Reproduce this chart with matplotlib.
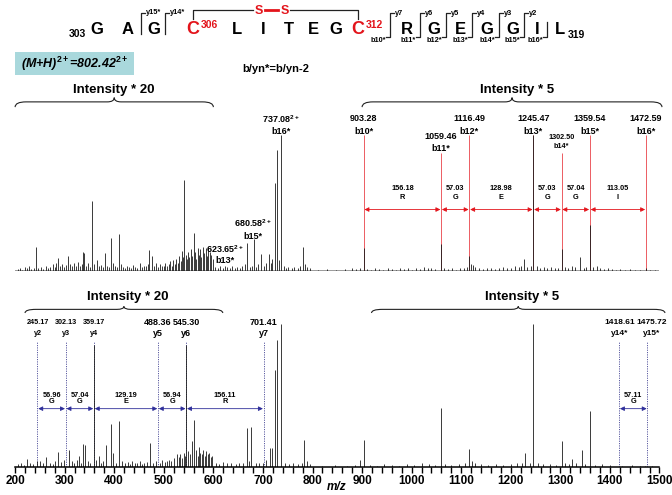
import matplotlib.pyplot as plt
from matplotlib.path import Path
from matplotlib.patches import PathPatch, Rectangle
from matplotlib.lines import Line2D

plt.rcParams['font.family'] = ['Liberation Sans', 'DejaVu Sans']
plt.rcParams['font.weight'] = 'bold'
plt.rcParams['mathtext.fontset'] = 'custom'
plt.rcParams['mathtext.rm'] = 'Liberation Sans:bold'
plt.rcParams['mathtext.bf'] = 'Liberation Sans:bold'
plt.rcParams['mathtext.it'] = 'Liberation Sans:italic:bold'

# ---------------- data ----------------
# upper spectrum (b-ions), intensity in % of the tallest line
top_mz = [242, 286, 307, 337, 339, 356, 382, 393, 410, 471, 476, 541, 560, 668, 681,
          697, 712, 724, 729, 737.08, 780, 903.28, 1059.46, 1116.49, 1124, 1226, 1240,
          1245.47, 1302.50, 1323, 1340, 1359.54, 1373, 1472.59,
          205, 210, 214, 219, 224, 228, 233, 238, 247, 252, 257, 262, 267, 271, 276, 280,
          283, 290, 294, 298, 302, 311, 315, 319, 322, 326, 330, 334, 344, 348, 352, 360,
          365, 369, 373, 377, 386, 389, 398, 402, 406, 414, 418, 422, 426, 430, 434, 438,
          442, 446, 452, 456, 460, 464, 468, 480, 484, 488, 492, 496, 500, 503, 507, 510,
          513, 516, 519, 522, 525, 528, 531, 534, 537, 539, 544, 546, 549, 551, 554, 557,
          563, 565, 568, 571, 574, 576, 579, 582, 585, 587, 590, 593, 596, 599,
          604, 609, 614, 619, 623.65, 628, 633, 638, 643, 648, 653, 658, 663, 673, 677,
          686, 691, 702, 706, 716, 719, 733, 742, 746, 751, 758, 763, 770, 775, 785, 789,
          795, 812, 830, 848, 866, 880, 888, 895,
          910, 918, 926, 935, 943, 952, 960, 968, 976, 985, 993, 1000, 1008, 1016, 1024,
          1032, 1040, 1048, 1066, 1074, 1082, 1090, 1098, 1106, 1112, 1120, 1128, 1136,
          1144, 1152, 1160, 1168, 1176, 1184, 1192, 1200, 1208, 1216, 1221, 1232, 1252,
          1258, 1266, 1274, 1282, 1290, 1296, 1310, 1316, 1330, 1347, 1352, 1366, 1380,
          1388, 1396, 1404, 1412, 1420, 1430, 1440, 1450, 1460, 1480, 1490]
top_int = [18, 9.5, 11, 14, 13, 51.5, 13, 24, 27, 15.5, 11, 67, 28, 20.5, 23.5,
           12.5, 12.5, 65, 89, 100, 17.6, 17, 20, 10.7, 4.4, 9, 3.7,
           100, 16, 3.7, 10, 34, 3.7, 2.2,
           1.5, 2.5, 1, 3, 2, 3.5, 1.5, 2, 2.5, 3, 1.5, 4, 2, 3, 5, 3,
           6, 4, 5.5, 3, 4.5, 5, 3.5, 6, 4, 6.6, 4, 5, 4, 6, 3, 5,
           7.8, 4, 4.5, 3, 4, 3, 6, 4, 3, 5, 3, 2.5, 4, 3, 2, 4.5,
           3, 2.5, 6, 3, 4, 3.5, 5, 4, 6, 3, 5, 4, 3.5, 6, 4, 5,
           7, 4, 8, 5, 9, 6, 11, 7, 15, 10, 12, 9, 14, 10, 16, 11,
           14, 9, 17, 12, 16, 10, 18, 13, 17, 11, 18, 14, 12, 9,
           3, 2, 3.5, 2, 4, 3, 2, 4, 2.5, 3, 2, 4, 5, 3, 4,
           3, 5, 4, 6, 6, 9, 8, 4, 2, 3, 2, 3, 2, 4, 5, 3,
           2, 1, 1.5, 1, 1.5, 2, 1.5, 2.5,
           1.5, 1, 2, 1.5, 1, 2, 1.5, 1, 2.5, 1.5, 2, 1, 2, 1.5, 3,
           2, 2.5, 1.5, 2, 1.5, 2, 1, 2.5, 2, 3, 5, 3, 2,
           1.5, 2, 2.5, 1.5, 2, 3, 2, 2.5, 3.5, 3, 4, 3, 4,
           2.5, 3, 2, 3, 2, 2.5, 3, 2, 3, 2.5, 3, 3, 2,
           1.5, 2, 1.5, 1, 1.5, 1, 1.5, 1, 1, 1, 0.8]

# lower spectrum (y-ions)
bot_mz = [225, 245, 263, 286, 309, 329, 337, 341, 359.17, 369, 384, 393, 398, 410, 436,
          473, 526, 545.30, 556, 560, 667, 676, 714, 718, 724, 729, 737, 783, 903.3,
          1059.5, 1116.5, 1229, 1245.5, 1302.5, 1324, 1344, 1359.5,
          205, 212, 218, 231, 236, 251, 256, 270, 276, 281, 293, 298, 314, 319, 324, 333,
          347, 352, 364, 374, 378, 404, 416, 421, 427, 431, 441, 446, 451, 456, 461, 466,
          479, 484, 492, 497, 502, 506, 511, 515, 520, 530, 533, 537, 540, 543, 549, 552,
          565, 568, 571, 574, 577, 580, 583, 586, 589, 592, 595, 598,
          605, 612, 620, 628, 636, 645, 652, 660, 672, 685, 692, 700, 706, 745, 752, 760,
          770, 778, 788, 795, 820, 845, 870, 885, 895,
          915, 930, 945, 960, 975, 990, 1005, 1020, 1035, 1048, 1068, 1080, 1095, 1108,
          1122, 1128, 1140, 1155, 1170, 1185, 1200, 1212, 1222, 1238, 1255, 1265, 1280,
          1292, 1310, 1318, 1332, 1350, 1370, 1385, 1400, 1425, 1445, 1460, 1470, 1485]
bot_int = [5.8, 4, 6.8, 10.5, 12, 8, 16, 15.5, 85, 8, 15.5, 30, 9.5, 32, 4,
           17, 8.8, 85, 18, 33, 27, 28, 13, 13, 67.5, 89, 100, 19, 19,
           41, 12.5, 10, 100, 18.5, 5.4, 12, 39.5,
           2, 3, 1.5, 3, 2, 4, 2.5, 3, 2, 4.5, 3.5, 5, 4, 2.5, 5, 3,
           4, 3, 5, 2.5, 4, 3, 4.5, 2.5, 3.5, 2, 2.5, 3, 4, 2, 3, 3.5,
           3, 4.5, 3, 5, 3.5, 4, 5, 4, 6, 7, 9, 6, 10, 8, 11, 9,
           12, 8, 14, 10, 9, 12, 8, 11, 9, 10, 7, 8,
           3, 2, 3.5, 2.5, 3, 2, 3, 2.5, 4, 3, 2.5, 3, 5, 3, 2, 2.5,
           2, 3, 4, 2, 1, 1.5, 1, 1.5, 5,
           1.5, 1, 2, 1.5, 1, 2, 1.5, 2.5, 2, 1.5, 2, 1.5, 2, 3,
           4, 3, 2, 1.5, 2, 1.5, 2, 2.5, 3, 3, 2.5, 2, 2,
           1.5, 3, 2, 2.5, 2, 1.5, 2, 1.5, 1, 1.5, 1, 1, 1]

# annotations
b_mz = [903.28, 1059.46, 1116.49, 1245.47, 1302.50, 1359.54, 1472.59]
b_names = ['b10*', 'b11*', 'b12*', 'b13*', 'b14*', 'b15*', 'b16*']
b_gaps = ['156.18', '57.03', '128.98', '57.03', '57.04', '113.05']
b_res = ['R', 'G', 'E', 'G', 'G', 'I']
b2_mz = [623.65, 680.58, 737.08]
b2_names = ['b13*', 'b15*', 'b16*']

y_mz = [245.17, 302.13, 359.17, 488.36, 545.30, 701.41]
y_names = ['y2', 'y3', 'y4', 'y5', 'y6', 'y7']
y_gaps = ['56.96', '57.04', '129.19', '56.94', '156.11']
y_res = ['G', 'G', 'E', 'G', 'R']
y2_mz = [1418.61, 1475.72]
y2_names = ['y14*', 'y15*']
y2_gaps = ['57.11']
y2_res = ['G']

RED = '#e3141b'
fig = plt.figure(figsize=(6.72, 4.95), dpi=100)


def fx(x):
    return x / 672.0


def fy(y):
    return 1 - y / 495.0


def ftext(x, y, s, **kw):
    fig.text(fx(x), fy(y), s, ha=kw.pop('ha', 'center'), va=kw.pop('va', 'center'), **kw)


def fline(xs, ys, **kw):
    kw.setdefault('color', '#222222')
    kw.setdefault('lw', 0.9)
    fig.add_artist(Line2D([fx(x) for x in xs], [fy(y) for y in ys], **kw))


def brace(ax, x0, x1, y0, h):
    xm = (x0 + x1) / 2.0
    ym = y0 + h * 0.55
    d, t = 22, 14
    verts = [(x0, y0), (x0, ym), (x0 + d, ym), (xm - t, ym), (xm, ym), (xm, y0 + h),
             (xm, ym), (xm + t, ym), (x1 - d, ym), (x1, ym), (x1, y0)]
    codes = [Path.MOVETO, Path.CURVE3, Path.CURVE3, Path.LINETO, Path.CURVE3, Path.CURVE3,
             Path.CURVE3, Path.CURVE3, Path.LINETO, Path.CURVE3, Path.CURVE3]
    ax.add_patch(PathPatch(Path(verts, codes), fill=False, lw=0.8, color='#222222',
                           clip_on=False))


def arrows(ax, xs, y, gaps, res, hcolor, ny, ry):
    for i in range(len(xs) - 1):
        a, b = xs[i], xs[i + 1]
        ax.annotate('', xy=(b - 1.5, y), xytext=(a + 1.5, y),
                    arrowprops=dict(arrowstyle='<|-|>', color=hcolor, lw=0.6,
                                    mutation_scale=6.5, shrinkA=0, shrinkB=0))
        ax.text((a + b) / 2, ny, gaps[i], ha='center', va='center', fontsize=5.3)
        ax.text((a + b) / 2, ry, res[i], ha='center', va='center', fontsize=5.3)


L, W = 15.1 / 672, 644.4 / 672
FS = 6.5

# ---------------- upper spectrum ----------------
ax1 = fig.add_axes([L, 224 / 495, W, 187 / 495])
ax1.set_xlim(200, 1500)
ax1.set_ylim(0, 187 / 1.36)
ax1.axis('off')
ax1.axhline(0, color='#8a8a8a', lw=1.2, zorder=1)
for i, m in enumerate(b_mz):
    top = 86.8 if i in (1, 4) else 100
    ax1.vlines(m, 0, top, color=RED, lw=0.6, alpha=0.8, zorder=1)
ax1.vlines(top_mz, 0, top_int, color='#1a1a1a', lw=0.6, zorder=2)
for i, m in enumerate(b_mz):
    if i == 1:
        ax1.text(m, 98.7, '%.2f' % m, ha='center', va='center', fontsize=FS)
        ax1.text(m, 90.4, b_names[i], ha='center', va='center', fontsize=FS)
    elif i == 4:
        ax1.text(m, 97.8, '%.2f' % m, ha='center', va='center', fontsize=5.2)
        ax1.text(m, 91.2, b_names[i], ha='center', va='center', fontsize=5.2)
    else:
        ax1.text(m, 111.8, '%.2f' % m, ha='center', va='center', fontsize=FS)
        ax1.text(m, 102.9, b_names[i], ha='center', va='center', fontsize=FS)
arrows(ax1, b_mz, 45.2, b_gaps, b_res, RED, 60.3, 53.7)
b2_y = [(16.2, 7.4), (35.3, 25.7), (111.8, 102.9)]
for m, n, (y1, y2) in zip(b2_mz, b2_names, b2_y):
    ax1.text(m, y1, '%.2f$^{2+}$' % m, ha='center', va='center', fontsize=FS)
    ax1.text(m, y2, n, ha='center', va='center', fontsize=FS)
ax1.text(400, 133, 'Intensity * 20', ha='center', va='center', fontsize=9.5)
ax1.text(1212, 133, 'Intensity * 5', ha='center', va='center', fontsize=9.5)
brace(ax1, 200, 600, 120.5, 7)
brace(ax1, 900, 1505, 120.5, 7)

# ---------------- lower spectrum ----------------
PB = 1.43
ax2 = fig.add_axes([L, 28 / 495, W, 180 / 495])
ax2.set_xlim(200, 1500)
ax2.set_ylim(0, 180 / PB)
for s in ('top', 'left', 'right'):
    ax2.spines[s].set_visible(False)
ax2.spines['bottom'].set_linewidth(1.1)
ax2.set_yticks([])
ax2.set_xticks(range(200, 1501, 100))
ax2.set_xticks(range(200, 1501, 20), minor=True)
ax2.tick_params(axis='x', which='both', direction='out', length=4.5, width=1,
                labelsize=8.5, pad=1)
for m in y_mz + y2_mz:
    ax2.vlines(m, 0, 87.4, color='#5a5aa0', lw=0.7, linestyles=(0, (1.2, 1.2)), zorder=1)
ax2.vlines(bot_mz, 0, bot_int, color='#1a1a1a', lw=0.6, zorder=2)
for i, m in enumerate(y_mz):
    fs = 5.2 if i < 3 else FS
    ax2.text(m, 100.7, '%.2f' % m, ha='center', va='center', fontsize=fs)
    ax2.text(m, 93.7, y_names[i], ha='center', va='center', fontsize=fs)
# the two high-mass labels sit a little apart so they do not collide
for m, n, dx in zip(y2_mz, y2_names, (1, 8)):
    ax2.text(m + dx, 100.7, '%.2f' % m, ha='center', va='center', fontsize=6)
    ax2.text(m + dx, 93.7, n, ha='center', va='center', fontsize=6)
arrows(ax2, y_mz, 40.8, y_gaps, y_res, '#2e2e9a', 50.3, 45.5)
arrows(ax2, y2_mz, 40.8, y2_gaps, y2_res, '#2e2e9a', 50.3, 45.5)
ax2.text(428, 119, 'Intensity * 20', ha='center', va='center', fontsize=9.5)
ax2.text(1222, 119, 'Intensity * 5', ha='center', va='center', fontsize=9.5)
brace(ax2, 220, 619, 107.7, 4.6)
brace(ax2, 919, 1511, 107.7, 4.6)
# axis title sits just under the tick labels, between 800 and 900
ftext(337, 487.5, 'm/z', fontsize=8.5, style='italic')

# ---------------- peptide sequence header ----------------
LY = 29.5
ftext(77.6, 34, '303', fontsize=7.5)
for ch, x in [('G', 97), ('A', 128), ('G', 154), ('L', 237), ('I', 263), ('T', 289),
              ('E', 313), ('G', 336), ('R', 407), ('G', 434), ('E', 460), ('G', 487),
              ('G', 513), ('I', 537), ('L', 560)]:
    ftext(x, LY, ch, fontsize=12)
ftext(576, 35, '319', fontsize=7.5)
ftext(193, LY, 'C', fontsize=13, color=RED)
ftext(201, 25, '306', fontsize=7.5, color=RED, ha='left')
ftext(358, LY, 'C', fontsize=13, color=RED)
ftext(366, 25, '312', fontsize=7.5, color=RED, ha='left')
# disulfide bridge
fline([193, 193, 253], [19, 10, 10])
fline([290, 358, 358], [10, 10, 19])
ftext(258.6, 10.5, 'S', fontsize=9, color=RED)
ftext(284.5, 10.5, 'S', fontsize=9, color=RED)
fline([265, 278], [10, 10], color=RED, lw=2)
# y-only brackets
for xb, lab in [(141, 'y15*'), (165, 'y14*')]:
    fline([xb, xb, xb + 4], [34, 13, 13])
    ftext(xb + 4.5, 13, lab, fontsize=5.3, ha='left')
# b/y brackets
for xb, yl, bl in [(390, 'y7', 'b10*'), (420, 'y6', 'b11*'), (446, 'y5', 'b12*'),
                   (472, 'y4', 'b13*'), (499, 'y3', 'b14*'), (524, 'y2', 'b15*')]:
    fline([xb - 4, xb, xb, xb + 4], [36.5, 36.5, 13.3, 13.3])
    ftext(xb + 4.5, 13.3, yl, fontsize=5.3, ha='left')
    ftext(xb - 4, 41, bl, fontsize=5.3, ha='right')
fline([543, 547, 547], [36.5, 36.5, 22])
ftext(543, 41, 'b16*', fontsize=5.3, ha='right')

# precursor box and legend
fig.add_artist(Rectangle((fx(15), fy(75)), fx(119), 23.5 / 495.0, color='#a9d8dc', lw=0))
ftext(75, 63.5, '(M+H)$^{2+}$=802.42$^{2+}$', fontsize=9, style='italic')
ftext(276, 68.5, 'b/yn*=b/yn-2', fontsize=8)

fig.savefig('out.png', dpi=100)
